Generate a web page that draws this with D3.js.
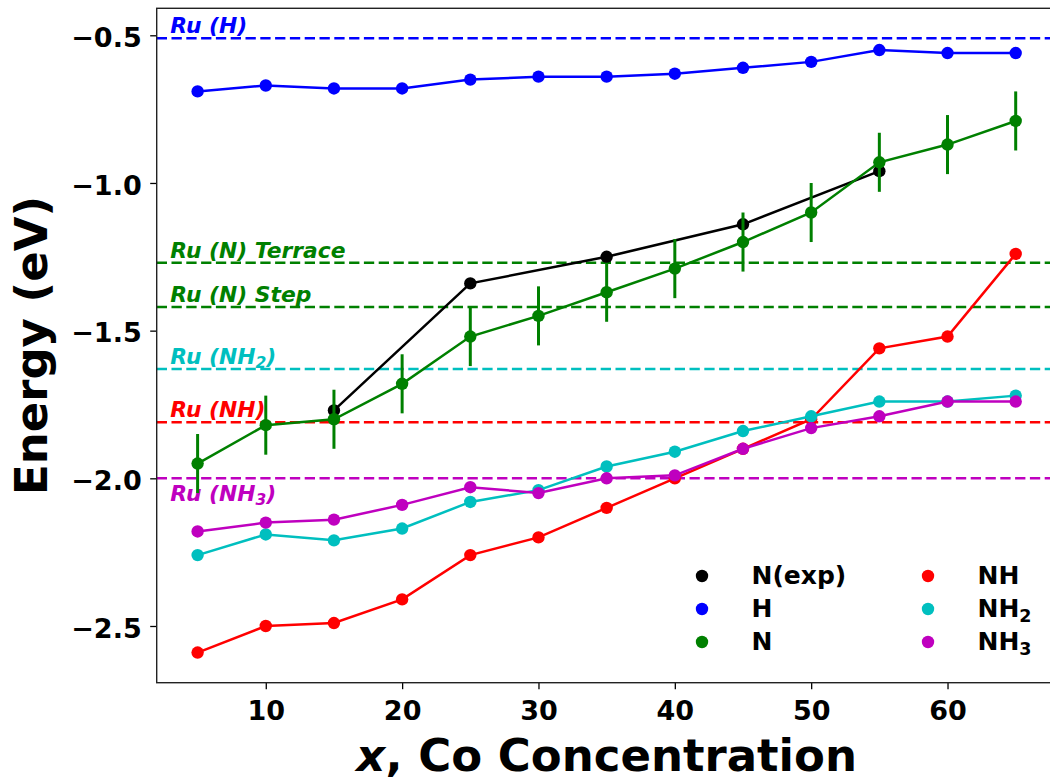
<!DOCTYPE html>
<html>
<head>
<meta charset="utf-8">
<script src="https://cdn.jsdelivr.net/npm/d3@7/dist/d3.min.js"></script>
<style>
  html, body { margin: 0; padding: 0; background: #fff; }
  svg { display: block; font-family: "DejaVu Sans", sans-serif; font-weight: bold; }
</style>
</head>
<body>
<svg id="chart" width="1050" height="781"></svg>
<script>
// ---------------- DATA ----------------
const xCo      = [5, 10, 15, 20, 25, 30, 35, 40, 45, 50, 55, 60, 65];
const hVals    = [-0.69, -0.67, -0.68, -0.68, -0.65, -0.64, -0.64, -0.63, -0.61, -0.59, -0.55, -0.56, -0.56];
const nVals    = [-1.95, -1.82, -1.80, -1.68, -1.52, -1.45, -1.37, -1.29, -1.20, -1.10, -0.93, -0.87, -0.79];
const nErr     = [0.10, 0.10, 0.10, 0.10, 0.10, 0.10, 0.10, 0.10, 0.10, 0.10, 0.10, 0.10, 0.10];
const nExpX    = [15, 25, 35, 45, 55];
const nExpVals = [-1.77, -1.34, -1.25, -1.14, -0.96];
const nhVals   = [-2.59, -2.50, -2.49, -2.41, -2.26, -2.20, -2.10, -2.00, -1.90, -1.80, -1.56, -1.52, -1.24];
const nh2Vals  = [-2.26, -2.19, -2.21, -2.17, -2.08, -2.04, -1.96, -1.91, -1.84, -1.79, -1.74, -1.74, -1.72];
const nh3Vals  = [-2.18, -2.15, -2.14, -2.09, -2.03, -2.05, -2.00, -1.99, -1.90, -1.83, -1.79, -1.74, -1.74];

const refLabels = [["Ru (H)", ""], ["Ru (N) Terrace", ""], ["Ru (N) Step", ""], ["Ru (NH", "2", ")"], ["Ru (NH", "", ")"], ["Ru (NH", "3", ")"]];
const refVals   = [-0.51, -1.27, -1.42, -1.63, -1.81, -2.00];
const refColors = ["#0000ff", "#008000", "#008000", "#00bfbf", "#ff0000", "#bf00bf"];
const refLabelBelow = [false, false, false, false, false, true];

const legendNames = [["N(exp)", ""], ["H", ""], ["N", ""], ["NH", ""], ["NH", "2"], ["NH", "3"]];
const legendColors = ["#000000", "#0000ff", "#008000", "#ff0000", "#00bfbf", "#bf00bf"];

const xTicks = [10, 20, 30, 40, 50, 60];
const yTicks = [-2.5, -2.0, -1.5, -1.0, -0.5];
const xDomain = [2, 68];
const yDomain = [-2.692, -0.4086];

// ---------------- LAYOUT ----------------
const svg = d3.select("#chart");
const L = 156.7, R = 1056.6, T = 8.3, B = 682.7;
const x = d3.scaleLinear().domain(xDomain).range([L, R]);
const y = d3.scaleLinear().domain(yDomain).range([B, T]);

// reference dashed lines
const gRef = svg.append("g");
refVals.forEach((v, i) => {
  gRef.append("line")
    .attr("x1", L).attr("x2", R)
    .attr("y1", y(v)).attr("y2", y(v))
    .attr("stroke", refColors[i]).attr("stroke-width", 2.6)
    .attr("stroke-dasharray", "10.3,4.5");
  const t = gRef.append("text")
    .attr("x", x(3.0))
    .attr("y", refLabelBelow[i] ? y(v) + 23 : y(v) - 5)
    .attr("fill", refColors[i])
    .attr("font-size", 21.8)
    .attr("font-style", "italic")
    .attr("font-weight", "bold");
  const parts = refLabels[i];
  t.append("tspan").text(parts[0]);
  if (parts[1]) {
    t.append("tspan").attr("font-size", 15.5).attr("dy", 4).text(parts[1]);
    t.append("tspan").attr("dy", -4).text(parts[2]);
  } else if (parts[2]) {
    t.append("tspan").text(parts[2]);
  }
});

// series helper
const line = d3.line().x(d => x(d[0])).y(d => y(d[1]));
function drawSeries(xs, vs, color) {
  const pts = xs.map((xx, i) => [xx, vs[i]]);
  const g = svg.append("g");
  g.append("path").attr("d", line(pts))
    .attr("fill", "none").attr("stroke", color).attr("stroke-width", 2.5);
  g.selectAll("circle").data(pts).join("circle")
    .attr("cx", d => x(d[0])).attr("cy", d => y(d[1])).attr("r", 6.2)
    .attr("fill", color);
  return g;
}

drawSeries(xCo, hVals, "#0000ff");
drawSeries(nExpX, nExpVals, "#000000");
// N with error bars
const gN = svg.append("g");
gN.selectAll("line").data(xCo).join("line")
  .attr("x1", (d) => x(d)).attr("x2", (d) => x(d))
  .attr("y1", (d, i) => y(nVals[i] - nErr[i]))
  .attr("y2", (d, i) => y(nVals[i] + nErr[i]))
  .attr("stroke", "#008000").attr("stroke-width", 3);
drawSeries(xCo, nVals, "#008000");
drawSeries(xCo, nhVals, "#ff0000");
drawSeries(xCo, nh2Vals, "#00bfbf");
drawSeries(xCo, nh3Vals, "#bf00bf");

// axes
const xAxis = d3.axisBottom(x).tickValues(xTicks).tickSize(6.5).tickPadding(11.5)
  .tickFormat(d3.format("d"));
const yAxis = d3.axisLeft(y).tickValues(yTicks).tickSize(6.5).tickPadding(8.5)
  .tickFormat(d => d3.format(".1f")(d).replace("-", "\u2212"));

const gx = svg.append("g").attr("transform", `translate(0,${B})`).call(xAxis);
const gy = svg.append("g").attr("transform", `translate(${L},0)`).call(yAxis);
[gx, gy].forEach(g => {
  g.select(".domain").remove();
  g.selectAll(".tick line").attr("stroke", "#000").attr("stroke-width", 1.3);
  g.selectAll(".tick text").attr("fill", "#000").attr("font-size", 27)
    .attr("font-family", "DejaVu Sans").attr("font-weight", "bold");
});
gy.selectAll(".tick text").attr("dy", "0.42em");

// spines
svg.append("rect").attr("x", L).attr("y", T).attr("width", R - L).attr("height", B - T)
  .attr("fill", "none").attr("stroke", "#222").attr("stroke-width", 1.4);

// axis labels
const xl = svg.append("text").attr("x", (L + R) / 2).attr("y", 771)
  .attr("text-anchor", "middle").attr("font-size", 45).attr("fill", "#000");
xl.append("tspan").attr("font-style", "italic").text("x");
xl.append("tspan").text(", Co Concentration");

svg.append("text")
  .attr("transform", `translate(47,${(T + B) / 2}) rotate(-90)`)
  .attr("text-anchor", "middle").attr("font-size", 45).attr("fill", "#000")
  .text("Energy (eV)");

// legend
const legCols = [702, 928];
const legTextOff = 49.5;
const legRow0 = 576, legRowH = 33;
legendNames.forEach((nm, i) => {
  const col = Math.floor(i / 3), row = i % 3;
  const cx = legCols[col], cy = legRow0 + row * legRowH;
  svg.append("circle").attr("cx", cx).attr("cy", cy).attr("r", 6.2).attr("fill", legendColors[i]);
  const t = svg.append("text").attr("x", cx + legTextOff).attr("y", cy + 8)
    .attr("font-size", 25).attr("fill", "#000");
  t.append("tspan").text(nm[0]);
  if (nm[1]) t.append("tspan").attr("font-size", 17.5).attr("dy", 5).text(nm[1]);
});
</script>
</body>
</html>
